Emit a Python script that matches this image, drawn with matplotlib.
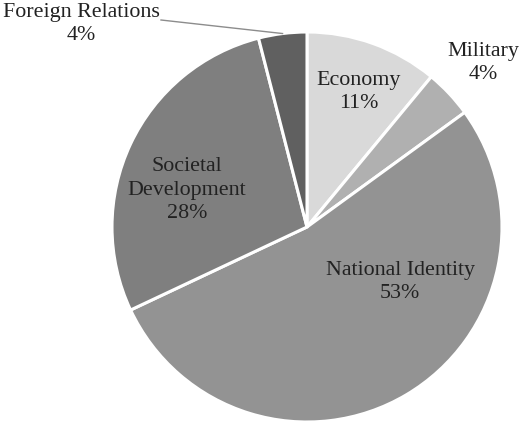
import matplotlib
matplotlib.use("Agg")
import matplotlib.pyplot as plt
import numpy as np

categories = ["Economy", "Military", "National Identity", "Societal\nDevelopment", "Foreign Relations"]
values = [11, 4, 53, 28, 4]
pct_labels = ["11%", "4%", "53%", "28%", "4%"]
colors = ["#d9d9d9", "#b0b0b0", "#939393", "#7f7f7f", "#606060"]

W, H = 520, 421
fig = plt.figure(figsize=(W / 100, H / 100), dpi=100)
ax = fig.add_axes([0, 0, 1, 1])

cx, cy, r = 307, H - 227, 195
wedges, _ = ax.pie(values, colors=colors, startangle=90, counterclock=False,
                   center=(cx, cy), radius=r, frame=True,
                   wedgeprops=dict(edgecolor="white", linewidth=2.2))
ax.set_xlim(0, W)
ax.set_ylim(0, H)
ax.axis("off")

font = dict(family="Liberation Serif", fontsize=15.8, color="#222222",
            ha="center", va="center", linespacing=1.32)

label_pos = [(359, 92), (483, 63), (400, 282), (187, 190), (81, 24)]
for cat, pct, (x, y) in zip(categories, pct_labels, label_pos):
    ax.text(x, H - y, f"{cat}\n{pct}", **font)

# leader line for Foreign Relations
w = wedges[4]
theta = np.deg2rad((w.theta1 + w.theta2) / 2)
px, py = cx + r * np.cos(theta), cy + r * np.sin(theta)
ax.plot([161, px], [H - 20, py], color="#8c8c8c", linewidth=1.0)

fig.savefig("out.png", dpi=100)
